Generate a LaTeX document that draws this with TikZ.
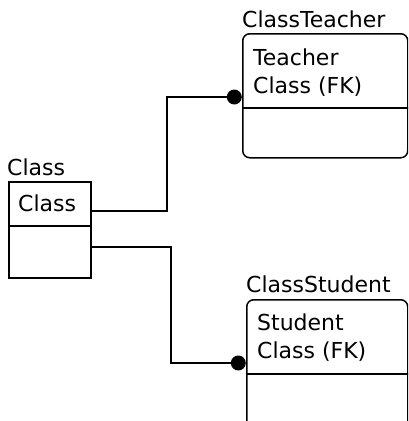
\documentclass[tikz,border=0pt]{standalone}
\usepackage{fontspec}
\setmainfont{DejaVu Sans}
\usepackage{tikz}
\usetikzlibrary{positioning}
\tikzset{entity/.style = {draw, line width = 1.5, inner sep = 0, anchor = north west}}
\tikzset{attr/.style = {anchor = base west, inner sep = 0, font = \fontsize{22}{26}\selectfont}}
\tikzset{fkdot/.style = {fill, circle, inner sep = 0, minimum size = 15}}
\tikzset{link/.style = {line width = 1.5}}

\begin{document}
\begin{tikzpicture}[x = 1pt, y = -1pt]
  \useasboundingbox (0, 0) rectangle (408, 421);
  \clip (0, 0) rectangle (408, 421);

  % independent table
  \node [attr] (classtitle) at (7, 175) {Class};
  \node [entity, minimum width = 82, minimum height = 96] (class) at (8, 181) {};
  \node [attr] (classkey) at (18, 211) {Class};
  \draw [line width = 1.5] (class.west |- 0, 226) -- (class.east |- 0, 226);

  % dependent tables, rounded
  \node [attr] (teachertitle) at (242, 27) {ClassTeacher};
  \node [entity, rounded corners = 7, minimum width = 165, minimum height = 124] (teacher) at (242, 33) {};
  \node [attr] (teacherkey) at (253, 65) {Teacher};
  \node [attr] (teacherfk) at (253, 93) {Class (FK)};
  \draw [line width = 1.5] (teacher.west |- 0, 108) -- (teacher.east |- 0, 108);

  \node [attr] (studenttitle) at (246, 292) {ClassStudent};
  \node [entity, rounded corners = 7, minimum width = 161, minimum height = 130] (student) at (246, 299) {};
  \node [attr] (studentkey) at (257, 330) {Student};
  \node [attr] (studentfk) at (257, 358) {Class (FK)};
  \draw [line width = 1.5] (student.west |- 0, 374) -- (student.east |- 0, 374);

  % relationships
  \coordinate (tfk) at (teacher.west |- 0, 97);
  \coordinate (sfk) at (student.west |- 0, 363);
  \node [fkdot, left = 0 of tfk] (tdot) {};
  \node [fkdot, left = 0 of sfk] (sdot) {};

  \draw [link] (class.east |- classkey.base) -| (167, 97) -- (tdot);
  \draw [link] (class.east |- 0, 247) -| (171, 363) -- (sdot);
\end{tikzpicture}
\end{document}
